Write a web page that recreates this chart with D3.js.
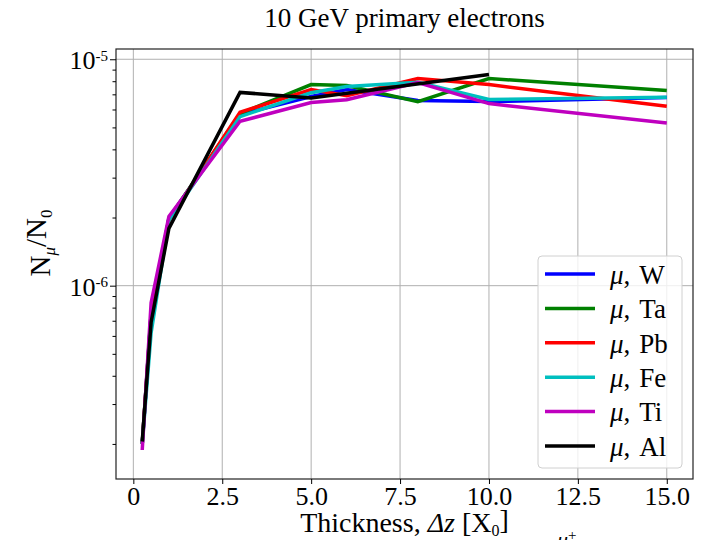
<!DOCTYPE html>
<html>
<head>
<meta charset="utf-8">
<script src="https://cdn.jsdelivr.net/npm/d3@7"></script>
<style>
  body { margin: 0; background: #fff; }
  text { font-family: "Liberation Serif", "DejaVu Serif", serif; fill: #000; }
</style>
</head>
<body>
<script>
// thickness in radiation lengths
const thick = [0.25, 0.5, 1, 3, 5, 6, 8, 10, 15]
const thickAl = [0.25, 0.5, 1, 3, 5, 10]

// N_mu / N_0 per target material
const muW  = [2.0e-7, 7.5e-7, 1.98e-6, 5.70e-6, 6.85e-6, 7.35e-6, 6.57e-6, 6.50e-6, 6.77e-6]
const muTa = [2.0e-7, 7.6e-7, 1.98e-6, 5.75e-6, 7.73e-6, 7.65e-6, 6.50e-6, 8.22e-6, 7.27e-6]
const muPb = [2.0e-7, 7.4e-7, 1.95e-6, 5.83e-6, 7.35e-6, 6.91e-6, 8.22e-6, 7.73e-6, 6.20e-6]
const muFe = [2.0e-7, 6.2e-7, 1.95e-6, 5.58e-6, 7.12e-6, 7.58e-6, 7.91e-6, 6.64e-6, 6.79e-6]
const muTi = [1.88e-7, 8.4e-7, 2.02e-6, 5.32e-6, 6.44e-6, 6.63e-6, 7.89e-6, 6.37e-6, 5.23e-6]
const muAl = [2.05e-7, 6.9e-7, 1.79e-6, 7.14e-6, 6.75e-6, 8.56e-6]

const labels = ['W', 'Ta', 'Pb', 'Fe', 'Ti', 'Al']
const colors = ['#0000ff', '#008000', '#ff0000', '#00bfbf', '#bf00bf', '#000000']
const xTicks = [0, 2.5, 5, 7.5, 10, 12.5, 15]
const yMajor = [1e-6, 1e-5]

const series = [
    {name: 'W', xs: thick, ys: muW},
    {name: 'Ta', xs: thick, ys: muTa},
    {name: 'Pb', xs: thick, ys: muPb},
    {name: 'Fe', xs: thick, ys: muFe},
    {name: 'Ti', xs: thick, ys: muTi},
    {name: 'Al', xs: thickAl, ys: muAl}
]

const width = 718, height = 540
const pL = 116, pR = 693, pT = 49, pB = 479

const svg = d3.select('body').append('svg')
    .attr('width', width)
    .attr('height', height)

const x = d3.scaleLinear().domain([-0.4875, 15.7375]).range([pL, pR])
const y = d3.scaleLog().domain([1.40e-7, 1.11e-5]).range([pB, pT])

// grid
const grid = svg.append('g').attr('stroke', '#b0b0b0').attr('stroke-width', 1)
grid.selectAll('.gx').data(xTicks).enter().append('line')
    .attr('x1', d => x(d)).attr('x2', d => x(d))
    .attr('y1', pT).attr('y2', pB)
grid.selectAll('.gy').data(yMajor).enter().append('line')
    .attr('x1', pL).attr('x2', pR)
    .attr('y1', d => y(d)).attr('y2', d => y(d))

// lines
const line = d3.line()
    .x(d => x(d[0]))
    .y(d => y(d[1]))

svg.append('g').selectAll('path')
    .data(series)
    .enter()
    .append('path')
    .attr('d', d => line(d.xs.map((v, i) => [v, d.ys[i]])))
    .attr('fill', 'none')
    .attr('stroke', (d, i) => colors[i])
    .attr('stroke-width', 3.5)
    .attr('stroke-linejoin', 'miter')

// spines
svg.append('rect')
    .attr('x', pL).attr('y', pT)
    .attr('width', pR - pL).attr('height', pB - pT)
    .attr('fill', 'none').attr('stroke', '#222').attr('stroke-width', 1.2)

// x axis
const xAxis = svg.append('g')
    .attr('transform', 'translate(0,' + pB + ')')
    .call(d3.axisBottom(x).tickValues(xTicks).tickSize(5).tickPadding(3)
        .tickFormat(d => d === 0 ? '0' : d.toFixed(1)))
xAxis.select('.domain').remove()
xAxis.selectAll('text').style('font-size', '26px').attr('fill', '#000')

// y axis minor ticks
const minor = []
for (let e = -7; e <= -6; e++) {
    for (let m = 2; m <= 9; m++) minor.push(m * Math.pow(10, e))
}
const yMinor = svg.append('g')
    .attr('transform', 'translate(' + pL + ',0)')
    .call(d3.axisLeft(y).tickValues(minor.filter(v => v >= 1.4e-7)).tickSize(3.5).tickFormat(''))
yMinor.select('.domain').remove()

const yAxis = svg.append('g')
    .attr('transform', 'translate(' + pL + ',0)')
    .call(d3.axisLeft(y).tickValues(yMajor).tickSize(6).tickFormat(''))
yAxis.select('.domain').remove()

yAxis.selectAll('.tick').append('text')
    .attr('x', -8).attr('dy', '0.36em')
    .attr('text-anchor', 'end')
    .style('font-size', '26px')
    .each(function(d) {
        const t = d3.select(this)
        t.append('tspan').text('10')
        t.append('tspan').attr('dy', '-0.55em').style('font-size', '15px')
            .text('-' + Math.round(-Math.log10(d)))
    })

// title
svg.append('text')
    .attr('x', (pL + pR) / 2).attr('y', 27)
    .attr('text-anchor', 'middle')
    .style('font-size', '27px')
    .text('10 GeV primary electrons')

// x label
const xl = svg.append('text')
    .attr('x', (pL + pR) / 2).attr('y', 532)
    .attr('text-anchor', 'middle')
    .style('font-size', '28px')
xl.append('tspan').text('Thickness, ')
xl.append('tspan').style('font-style', 'italic').text('Δz')
xl.append('tspan').text(' [X')
xl.append('tspan').attr('dy', '0.25em').style('font-size', '16px').text('0')
xl.append('tspan').attr('dy', '-0.25em').text(']')

// y label
const yl = svg.append('text')
    .attr('transform', 'translate(50,243) rotate(-90)')
    .attr('text-anchor', 'middle')
    .style('font-size', '29px')
yl.append('tspan').text('N')
yl.append('tspan').attr('dy', '0.3em').style('font-size', '17px').style('font-style', 'italic').text('μ')
yl.append('tspan').attr('dy', '-0.3em').text('/N')
yl.append('tspan').attr('dy', '0.3em').style('font-size', '17px').text('0')

// cut-off text at bottom edge
svg.append('text')
    .attr('x', 557).attr('y', 547)
    .style('font-size', '22px')
    .html('<tspan font-style="italic">μ</tspan><tspan dy="-0.45em" font-size="15px">+</tspan>')

// legend
const lg = svg.append('g')
lg.append('rect')
    .attr('x', 538).attr('y', 256)
    .attr('width', 144).attr('height', 212)
    .attr('rx', 4)
    .attr('fill', '#fff').attr('fill-opacity', 0.8)
    .attr('stroke', '#d0d0d0').attr('stroke-width', 1)

const rows = lg.selectAll('.row')
    .data(labels)
    .enter()
    .append('g')
    .attr('transform', (d, i) => 'translate(0,' + (274 + i * 34.4) + ')')
rows.append('line')
    .attr('x1', 545).attr('x2', 595)
    .attr('stroke', (d, i) => colors[i])
    .attr('stroke-width', 3.5)
const lt = rows.append('text')
    .attr('x', 610).attr('dy', '0.36em')
    .style('font-size', '27px')
lt.append('tspan').style('font-style', 'italic').text('μ')
lt.append('tspan').text(',')
lt.append('tspan').attr('dx', 9).text(d => d)
</script>
</body>
</html>
